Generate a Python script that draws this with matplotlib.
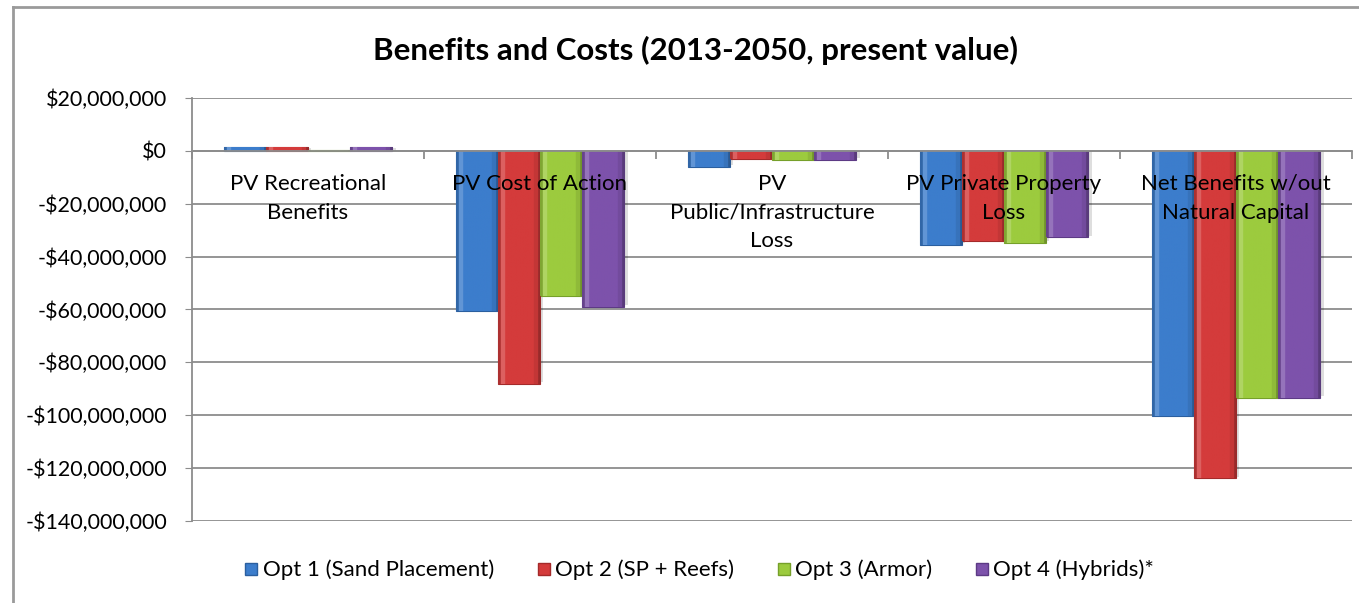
import matplotlib.pyplot as plt
import matplotlib.ticker as mticker
from matplotlib.colors import to_rgb
from matplotlib.lines import Line2D
import numpy as np

plt.rcParams['font.family'] = ['Lato', 'DejaVu Sans']

categories = ["PV Recreational\nBenefits", "PV Cost of Action", "PV\nPublic/Infrastructure\nLoss",
              "PV Private Property\nLoss", "Net Benefits w/out\nNatural Capital"]
series_names = ["Opt 1 (Sand Placement)", "Opt 2 (SP + Reefs)", "Opt 3 (Armor)", "Opt 4 (Hybrids)*"]

opt1 = [1.5e6, -60.5e6, -6.0e6, -35.5e6, -100.3e6]
opt2 = [1.5e6, -88.0e6, -3.0e6, -34.2e6, -123.8e6]
opt3 = [0.3e6, -55.0e6, -3.6e6, -34.8e6, -93.3e6]
opt4 = [1.5e6, -59.0e6, -3.4e6, -32.7e6, -93.3e6]

colors = ["#3c7dcc", "#d43b3b", "#9ccb3e", "#7d52ab"]
edge_colors = ["#2b5f9f", "#a42a2a", "#76a02a", "#5d3a85"]


def bevel(color, n=60):
    # horizontal shading: dark rims, light inner edge on the left
    t = np.linspace(0, 1, n)
    f = np.ones(n)
    f[t < 0.06] = 0.82
    f[(t >= 0.06) & (t < 0.16)] = 1.12
    f[t > 0.94] = 0.72
    f[(t > 0.84) & (t <= 0.94)] = 0.92
    base = np.array(to_rgb(color))
    rows = []
    for v in f:
        if v >= 1:
            rows.append(base + (1 - base) * (v - 1) * 1.6)
        else:
            rows.append(base * v)
    return np.clip(np.array(rows)[None, :, :], 0, 1)


fig = plt.figure(figsize=(13.59, 6.03), dpi=100)
ax = fig.add_axes([192 / 1359, 0.136, 1160 / 1359, 0.7015])

x = np.arange(len(categories))
width = 1 / 5.5
for k, vals in enumerate([opt1, opt2, opt3, opt4]):
    pos = x + (k - 1.5) * width
    ax.bar(pos + 0.014, np.array(vals) - 0.6e6 * np.sign(vals), width, color="#000000",
           alpha=0.13, zorder=2, linewidth=0)
    bars = ax.bar(pos, vals, width, color=colors[k], edgecolor=edge_colors[k],
                  linewidth=0.8, zorder=3, label=series_names[k])
    img = bevel(colors[k])
    for rect in bars:
        x0, y0 = rect.get_xy()
        w, h = rect.get_width(), rect.get_height()
        im = ax.imshow(img, extent=[x0, x0 + w, y0, y0 + h], aspect='auto',
                       interpolation='bilinear', zorder=3.5)
        im.set_clip_path(rect)

ax.set_xlim(-0.5, len(categories) - 0.5)
ax.set_ylim(-140e6, 20e6)
ax.set_yticks(np.arange(-140e6, 20e6 + 1, 20e6))
ax.yaxis.set_major_formatter(mticker.FuncFormatter(
    lambda v, p: ("-" if v < 0 else "") + "${:,.0f}".format(abs(v))))
ax.tick_params(axis='y', labelsize=15.5, length=5, color="#8c8c8c", pad=13)
ax.grid(axis='y', color="#8c8c8c", linewidth=1.3, zorder=1)
ax.set_axisbelow(True)

# category axis sits on zero
for s in ['top', 'right']:
    ax.spines[s].set_visible(False)
ax.spines['left'].set_color("#8c8c8c")
ax.spines['left'].set_linewidth(1.3)
ax.spines['bottom'].set_position(('data', 0))
ax.spines['bottom'].set_color("#8c8c8c")
ax.spines['bottom'].set_linewidth(1.3)
ax.spines['bottom'].set_zorder(4)
ax.set_xticks(np.arange(-0.5, len(categories), 1.0))
ax.set_xticklabels([])
ax.tick_params(axis='x', length=6, color="#8c8c8c", width=1.3)

for i, lab in enumerate(categories):
    ax.annotate(lab, (i, 0), xytext=(0, -16.5), textcoords='offset points',
                ha='center', va='top', fontsize=16, linespacing=1.55, zorder=5)

fig.text(0.512, 1 - 50 / 603, "Benefits and Costs (2013-2050, present value)",
         ha='center', va='center', fontsize=22.5, fontweight='bold')

handles = [Line2D([0], [0], marker='s', linestyle='', markersize=9,
                  markerfacecolor=c, markeredgecolor=e) for c, e in zip(colors, edge_colors)]
fig.legend(handles, series_names, loc='center', bbox_to_anchor=(0.5147, 1 - 570 / 603), ncol=4,
           frameon=False, fontsize=16, handlelength=0.6, handletextpad=0.2,
           columnspacing=1.95)

# chart frame
fig.add_artist(Line2D([13 / 1359, 13 / 1359], [0, 1 - 7 / 603], transform=fig.transFigure,
                      color="#9a9a9a", linewidth=2))
fig.add_artist(Line2D([13 / 1359, 1], [1 - 7 / 603, 1 - 7 / 603], transform=fig.transFigure,
                      color="#9a9a9a", linewidth=2))

fig.savefig("out.png", dpi=100)
